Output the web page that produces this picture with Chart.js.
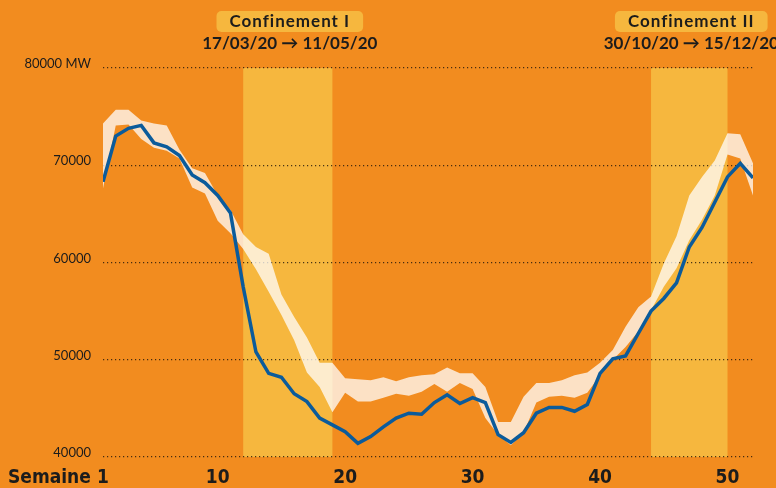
<!DOCTYPE html>
<html>
<head>
<meta charset="utf-8">
<script src="https://cdn.jsdelivr.net/npm/chart.js@4.4.1/dist/chart.umd.min.js"></script>
<style>
  html, body { margin: 0; padding: 0; background: #F28C1F; }
  #wrap { width: 776px; height: 488px; }
</style>
</head>
<body>
<div id="wrap"><canvas id="chart" width="776" height="488"></canvas></div>
<script>
// weekly consumption, 2020 vs min/max band of previous years (MW)
const weeks = Array.from({ length: 52 }, (_, i) => i + 1);
const conso2020 = [
  68300, 73000, 73800, 74100, 72300, 71900, 71000, 69000, 68200, 66900,
  65100, 57500, 50800, 48600, 48200, 46500, 45700, 44000, 43300, 42600,
  41400, 42100, 43100, 44000, 44500, 44400, 45600, 46400, 45500, 46100,
  45600, 42300, 41500, 42500, 44500, 45100, 45100, 44700, 45400, 48600,
  50100, 50400, 52700, 55000, 56300, 57900, 61600, 63600, 66200, 68800,
  70200, 68700
];
const bandMin = [
  67600, 74100, 74200, 72700, 71800, 71500, 70700, 67700, 67100, 64300,
  63000, 61400, 59300, 57000, 54600, 52000, 48700, 47200, 44600, 46600,
  45700, 45700, 46100, 46500, 46300, 46700, 47500, 46700, 47600, 47000,
  44000, 42300, 41200, 42500, 45600, 46200, 46300, 46100, 46600, 48400,
  50000, 51300, 52900, 55100, 57500, 59400, 62300, 64400, 66900, 71100,
  70700, 66900
];
const bandMax = [
  74300, 75700, 75700, 74600, 74300, 74100, 71600, 69700, 69200, 66900,
  65400, 62900, 61600, 60900, 56700, 54400, 52300, 49700, 49700, 48100,
  48000, 47900, 48200, 47800, 48200, 48400, 48500, 49200, 48600, 48600,
  47200, 43600, 43600, 46200, 47600, 47600, 47900, 48400, 48700, 49700,
  51000, 53400, 55400, 56500, 59900, 62700, 66900, 68800, 70500, 73300,
  73200, 70200
];
const xTicks = [1, 10, 20, 30, 40, 50];
const yTicks = [40000, 50000, 60000, 70000, 80000];

const lockStart = [12, 44];
const lockEnd = [19, 50];
const lockNames = ['Confinement I', 'Confinement II'];
const lockDates = ['17/03/20 \u2192 11/05/20', '30/10/20 \u2192 15/12/20'];

const ORANGE = '#F28C1F';
const YELLOW = '#F6B73E';
const BLUE = '#0B5B9B';
const PALE = 'rgba(255,255,255,0.74)';
const INK = '#1c1c1c';
const HEAD = "'Lato', 'Noto Sans', sans-serif";
const NARROW = "'Liberation Sans Narrow', 'DejaVu Sans Condensed', 'Liberation Sans', sans-serif";

const toPts = arr => arr.map((v, i) => ({ x: weeks[i], y: v }));

const decor = {
  id: 'decor',
  beforeDraw(chart) {
    const { ctx, chartArea: a, scales: { x } } = chart;
    ctx.save();
    ctx.fillStyle = ORANGE;
    ctx.fillRect(0, 0, chart.width, chart.height);
    ctx.fillStyle = YELLOW;
    lockStart.forEach((s, i) => {
      const l = x.getPixelForValue(s);
      const r = x.getPixelForValue(lockEnd[i]);
      ctx.fillRect(l, a.top, r - l, a.bottom - a.top);
    });
    ctx.restore();
  },
  afterDraw(chart) {
    const { ctx, chartArea: a, scales: { x } } = chart;
    ctx.save();
    ctx.textAlign = 'center';
    ctx.textBaseline = 'middle';
    lockStart.forEach((s, i) => {
      const cx = (x.getPixelForValue(s) + x.getPixelForValue(lockEnd[i])) / 2 + 2;
      ctx.font = 'bold 17px ' + HEAD;
      ctx.letterSpacing = '1px';
      const w = ctx.measureText(lockNames[i]).width + 26;
      ctx.fillStyle = YELLOW;
      ctx.beginPath();
      ctx.roundRect(cx - w / 2, 11, w, 21, 5);
      ctx.fill();
      ctx.fillStyle = INK;
      ctx.fillText(lockNames[i], cx, 22);
      ctx.letterSpacing = '0px';
      ctx.font = 'bold 17px ' + HEAD;
      ctx.fillText(lockDates[i], cx, 44);
    });
    ctx.textAlign = 'left';
    ctx.font = 'bold 19px ' + NARROW;
    ctx.fillText('Semaine', 8, a.bottom + 21);
    ctx.restore();
  }
};

new Chart(document.getElementById('chart'), {
  type: 'line',
  data: {
    datasets: [
      {
        label: 'min',
        data: toPts(bandMin),
        borderWidth: 0,
        pointRadius: 0,
        fill: false,
        order: 2,
      },
      {
        label: 'max',
        data: toPts(bandMax),
        borderWidth: 0,
        pointRadius: 0,
        backgroundColor: PALE,
        fill: '-1',
        order: 2,
      },
      {
        label: '2020',
        data: toPts(conso2020),
        borderColor: BLUE,
        borderWidth: 3.5,
        pointRadius: 0,
        fill: false,
        // drawn on top of the band
        order: 1,
      },
    ],
  },
  options: {
    responsive: false,
    animation: false,
    devicePixelRatio: 1,
    layout: { padding: { top: 68, right: 23, left: 0, bottom: 0 } },
    plugins: { legend: { display: false }, tooltip: { enabled: false } },
    scales: {
      x: {
        type: 'linear',
        min: 1,
        max: 52,
        afterBuildTicks: s => { s.ticks = xTicks.map(v => ({ value: v })); },
        afterFit: s => { s.height = 31; },
        grid: { display: false },
        border: { display: false },
        ticks: {
          padding: 2,
          color: INK,
          font: { family: NARROW, size: 19, weight: 'bold' },
        },
      },
      y: {
        min: 40000,
        max: 80000,
        afterBuildTicks: s => { s.ticks = yTicks.map(v => ({ value: v })); },
        afterFit: s => { s.width = 103; },
        grid: {
          color: 'rgba(30,20,10,0.8)',
          lineWidth: 1.2,
          drawTicks: false,
        },
        border: { display: false, dash: [1.2, 2.8] },
        ticks: {
          padding: 12,
          labelOffset: -4,
          color: INK,
          font: { family: HEAD, size: 13 },
          callback: v => (v === 80000 ? v + ' MW' : String(v)),
        },
      },
    },
  },
  plugins: [decor],
});
</script>
</body>
</html>
